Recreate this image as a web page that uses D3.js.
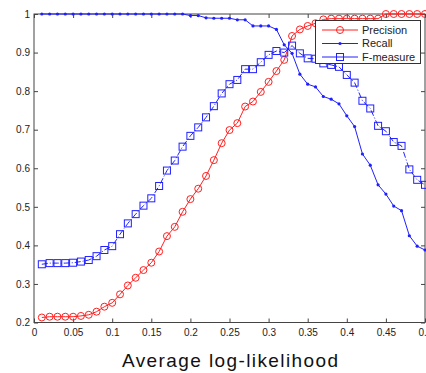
<!DOCTYPE html>
<html>
<head>
<meta charset="utf-8">
<script src="https://cdn.jsdelivr.net/npm/d3@7"></script>
<style>
  html, body { margin: 0; padding: 0; background: #fff; }
  svg { display: block; }
</style>
</head>
<body>
<svg id="chart" width="426" height="373"></svg>
<script>
const xValues = d3.range(1, 51).map(i => +(i * 0.01).toFixed(2));

const precision = [
  0.213, 0.215, 0.215, 0.215, 0.215, 0.217, 0.220, 0.228, 0.241, 0.251,
  0.273, 0.296, 0.316, 0.336, 0.355, 0.384, 0.424, 0.448, 0.487, 0.520,
  0.547, 0.580, 0.621, 0.665, 0.699, 0.717, 0.760, 0.773, 0.798, 0.824,
  0.852, 0.881, 0.943, 0.960, 0.969, 0.976, 0.986, 0.988, 0.988, 0.988,
  0.988, 0.988, 0.988, 0.988, 1.000, 1.000, 1.000, 1.000, 1.000, 1.000
];

const recall = [
  1.000, 1.000, 1.000, 1.000, 1.000, 1.000, 1.000, 1.000, 1.000, 1.000,
  1.000, 1.000, 1.000, 1.000, 1.000, 1.000, 1.000, 1.000, 1.000, 0.996,
  0.996, 0.990, 0.989, 0.989, 0.989, 0.985, 0.985, 0.969, 0.969, 0.969,
  0.960, 0.920, 0.898, 0.844, 0.818, 0.811, 0.786, 0.779, 0.767, 0.736,
  0.708, 0.637, 0.608, 0.557, 0.533, 0.502, 0.490, 0.425, 0.398, 0.388
];

const fmeasure = [
  0.351, 0.354, 0.354, 0.354, 0.355, 0.358, 0.362, 0.372, 0.388, 0.398,
  0.429, 0.457, 0.481, 0.503, 0.522, 0.554, 0.594, 0.620, 0.656, 0.684,
  0.706, 0.732, 0.761, 0.794, 0.818, 0.829, 0.857, 0.857, 0.875, 0.894,
  0.904, 0.900, 0.918, 0.898, 0.885, 0.884, 0.872, 0.868, 0.863, 0.842,
  0.822, 0.775, 0.755, 0.710, 0.696, 0.668, 0.658, 0.597, 0.570, 0.557
];

const xTicks = [0, 0.05, 0.1, 0.15, 0.2, 0.25, 0.3, 0.35, 0.4, 0.45, 0.5];
const yTicks = [0.2, 0.3, 0.4, 0.5, 0.6, 0.7, 0.8, 0.9, 1];
const seriesNames = ["Precision", "Recall", "F-measure"];
const xTitle = "Average log-likelihood";

(function () {
const svg = d3.select("#chart");
const pL = 34, pR = 425, pT = 14, pB = 322.5;
const x = d3.scaleLinear().domain([0, 0.5]).range([pL, pR]);
const y = d3.scaleLinear().domain([0.2, 1]).range([pB, pT]);

const axisColor = "#444";
const fmt = d => d3.format("")(d);
const tickFont = "Liberation Sans, Arial, sans-serif";

function styleAxis(g) {
  g.select(".domain").remove();
  g.selectAll(".tick line").attr("stroke", axisColor);
  g.selectAll(".tick text").attr("fill", "#222")
    .attr("font-family", tickFont).attr("font-size", "10px");
}

svg.append("g").attr("transform", `translate(0,${pB})`)
  .call(d3.axisBottom(x).tickValues(xTicks).tickFormat(fmt).tickSize(-4).tickPadding(6))
  .call(styleAxis);
svg.append("g").attr("transform", `translate(0,${pT})`)
  .call(d3.axisTop(x).tickValues(xTicks).tickFormat("").tickSize(-4))
  .call(styleAxis);
svg.append("g").attr("transform", `translate(${pL},0)`)
  .call(d3.axisLeft(y).tickValues(yTicks).tickFormat(fmt).tickSize(-4).tickPadding(4))
  .call(styleAxis);
svg.append("g").attr("transform", `translate(${pR},0)`)
  .call(d3.axisRight(y).tickValues(yTicks).tickFormat("").tickSize(-4))
  .call(styleAxis);

svg.append("rect")
  .attr("x", pL).attr("y", pT)
  .attr("width", pR - pL).attr("height", pB - pT)
  .attr("fill", "none").attr("stroke", axisColor).attr("stroke-width", 1);

const red = "#ff2020", blue = "#2020ff";
const line = d3.line().x((d, i) => x(xValues[i])).y(d => y(d));

// Precision
const gP = svg.append("g");
gP.append("path").datum(precision).attr("d", line)
  .attr("fill", "none").attr("stroke", red).attr("stroke-width", 1);
gP.selectAll("circle").data(precision).join("circle")
  .attr("cx", (d, i) => x(xValues[i])).attr("cy", d => y(d)).attr("r", 3.5)
  .attr("fill", "none").attr("stroke", red).attr("stroke-width", 1);

// Recall
const gR = svg.append("g");
gR.append("path").datum(recall).attr("d", line)
  .attr("fill", "none").attr("stroke", blue).attr("stroke-width", 1);
gR.selectAll("circle").data(recall).join("circle")
  .attr("cx", (d, i) => x(xValues[i])).attr("cy", d => y(d)).attr("r", 1.6)
  .attr("fill", blue);

// F-measure
const gF = svg.append("g");
gF.append("path").datum(fmeasure).attr("d", line)
  .attr("fill", "none").attr("stroke", blue).attr("stroke-width", 1)
  .attr("stroke-dasharray", "6,2,1,2");
gF.selectAll("rect").data(fmeasure).join("rect")
  .attr("x", (d, i) => x(xValues[i]) - 3.5).attr("y", d => y(d) - 3.5)
  .attr("width", 7).attr("height", 7)
  .attr("fill", "none").attr("stroke", blue).attr("stroke-width", 1);

// Legend
const lg = svg.append("g");
lg.append("rect").attr("x", 315.5).attr("y", 20.5).attr("width", 105).attr("height", 43)
  .attr("fill", "#fff").attr("stroke", "#333").attr("stroke-width", 1);
const legendY = [30, 43.5, 57];
seriesNames.forEach((name, i) => {
  const ly = legendY[i];
  const col = i === 0 ? red : blue;
  lg.append("line").attr("x1", 322).attr("x2", 358).attr("y1", ly).attr("y2", ly)
    .attr("stroke", col).attr("stroke-width", 1);
  if (i === 0) {
    lg.append("circle").attr("cx", 340).attr("cy", ly).attr("r", 3.5)
      .attr("fill", "none").attr("stroke", col);
  } else if (i === 1) {
    lg.append("circle").attr("cx", 340).attr("cy", ly).attr("r", 1.6).attr("fill", col);
  } else {
    lg.append("rect").attr("x", 336.5).attr("y", ly - 3.5).attr("width", 7).attr("height", 7)
      .attr("fill", "none").attr("stroke", col);
  }
  lg.append("text").attr("x", 362).attr("y", ly).attr("dy", "0.36em")
    .attr("font-family", tickFont).attr("font-size", "11px").attr("fill", "#222")
    .text(name);
});

// X title
svg.append("text").attr("x", 230).attr("y", 367)
  .attr("text-anchor", "middle")
  .attr("textLength", 216).attr("lengthAdjust", "spacing")
  .attr("font-family", "Liberation Sans, Arial, sans-serif").attr("font-size", "19px")
  .attr("fill", "#111").text(xTitle);
})();
</script>
</body>
</html>
